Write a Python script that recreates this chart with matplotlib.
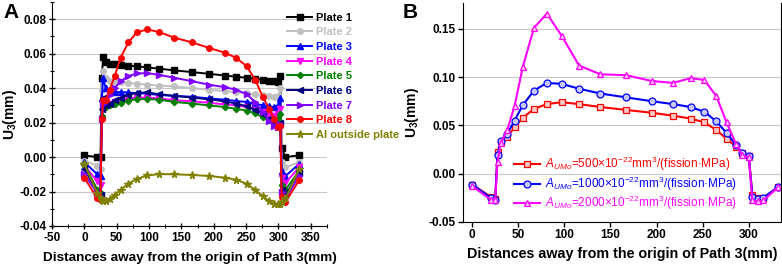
import matplotlib
matplotlib.use("Agg")
import matplotlib.pyplot as plt
from matplotlib.ticker import MultipleLocator

plt.rcParams['font.family'] = ['Liberation Sans', 'DejaVu Sans']
plt.rcParams['mathtext.fontset'] = 'custom'
plt.rcParams['mathtext.rm'] = 'Liberation Sans'
plt.rcParams['mathtext.it'] = 'Liberation Sans:italic'
plt.rcParams['mathtext.bf'] = 'Liberation Sans:bold'
plt.rcParams['axes.unicode_minus'] = False

# ---------------- Panel A data ----------------
xA = [0, 20, 25, 27, 29, 33, 39, 47, 56, 68, 81, 97, 116, 139, 167, 193, 218,
      235, 251, 264, 276, 286, 293, 300, 303, 305, 311, 332]

plate1 = [0.001, 0.000, 0.000, 0.046, 0.058, 0.055, 0.054, 0.054, 0.0535, 0.053,
          0.0527, 0.052, 0.0513, 0.0503, 0.0493, 0.0483, 0.0473, 0.0466, 0.046,
          0.0455, 0.0448, 0.0443, 0.0439, 0.0435, 0.047, 0.005, 0.000, 0.001]
plate2 = [-0.002, -0.005, -0.007, 0.039, 0.050, 0.046, 0.044, 0.0435, 0.0433, 0.043,
          0.0425, 0.042, 0.0415, 0.041, 0.040, 0.039, 0.0383, 0.0375, 0.037,
          0.0365, 0.0358, 0.0353, 0.035, 0.0355, 0.040, -0.003, -0.006, -0.003]
plate3 = [-0.003, -0.010, -0.011, 0.034, 0.046, 0.040, 0.038, 0.0378, 0.0377, 0.0375,
          0.037, 0.0368, 0.036, 0.0355, 0.035, 0.034, 0.0333, 0.0325, 0.032,
          0.031, 0.030, 0.0295, 0.029, 0.030, 0.034, -0.008, -0.011, -0.004]
plate4 = [-0.005, -0.014, -0.016, 0.022, 0.030, 0.030, 0.031, 0.032, 0.033, 0.034,
          0.0345, 0.0345, 0.034, 0.033, 0.0323, 0.0315, 0.0305, 0.030, 0.029,
          0.0275, 0.026, 0.0245, 0.024, 0.025, 0.028, -0.012, -0.015, -0.006]
plate5 = [-0.004, -0.019, -0.021, 0.024, 0.029, 0.029, 0.030, 0.031, 0.0315, 0.0328,
          0.0335, 0.0337, 0.0333, 0.032, 0.031, 0.030, 0.029, 0.028, 0.027,
          0.0255, 0.023, 0.0215, 0.021, 0.022, 0.025, -0.016, -0.019, -0.008]
plate6 = [-0.007, -0.020, -0.022, 0.028, 0.034, 0.030, 0.031, 0.033, 0.0345, 0.036,
          0.0373, 0.0375, 0.0365, 0.0355, 0.0345, 0.0335, 0.0323, 0.031, 0.0295,
          0.0275, 0.025, 0.022, 0.019, 0.0185, 0.020, -0.019, -0.022, -0.009]
plate7 = [-0.010, -0.021, -0.023, 0.022, 0.031, 0.033, 0.036, 0.040, 0.044, 0.047,
          0.0485, 0.0487, 0.0477, 0.046, 0.044, 0.042, 0.0405, 0.039, 0.0365,
          0.032, 0.026, 0.021, 0.018, 0.0175, 0.019, -0.020, -0.024, -0.011]
plate8 = [-0.012, -0.024, -0.025, 0.022, 0.033, 0.033, 0.039, 0.047, 0.0576, 0.0665,
          0.0723, 0.0741, 0.0725, 0.0693, 0.0665, 0.0633, 0.0605, 0.0575, 0.0527,
          0.045, 0.0348, 0.028, 0.022, 0.0175, 0.018, -0.023, -0.026, -0.0135]
al_out = [-0.004, -0.021, -0.024, -0.025, -0.0255, -0.0255, -0.0245, -0.022, -0.019,
          -0.0155, -0.0127, -0.0107, -0.0099, -0.0100, -0.0104, -0.0110, -0.0120,
          -0.0132, -0.0155, -0.0190, -0.0228, -0.0255, -0.027, -0.0275, -0.027,
          -0.026, -0.024, -0.007]

seriesA = [
    ("Plate 1", plate1, "#000000", "s"),
    ("Plate 2", plate2, "#c0c0c0", "o"),
    ("Plate 3", plate3, "#0000ff", "^"),
    ("Plate 4", plate4, "#ff00ff", "v"),
    ("Plate 5", plate5, "#008000", "D"),
    ("Plate 6", plate6, "#000080", "<"),
    ("Plate 7", plate7, "#8000ff", ">"),
    ("Plate 8", plate8, "#ff0000", "o"),
    ("Al outside plate", al_out, "#808000", "*"),
]

# ---------------- Panel B data ----------------
xB = [0, 20, 25, 27.5, 31, 38, 46, 55, 67, 81, 97, 116, 139, 167, 195, 218, 237,
      252, 265, 276, 286, 293, 300, 304, 310, 316, 332]
u500 = [-0.0115, -0.024, -0.026, 0.022, 0.033, 0.038, 0.048, 0.058, 0.067, 0.072,
        0.074, 0.072, 0.069, 0.066, 0.063, 0.060, 0.057, 0.053, 0.045, 0.036, 0.028,
        0.021, 0.018, -0.022, -0.025, -0.025, -0.014]
u1000 = [-0.0115, -0.025, -0.027, 0.019, 0.034, 0.041, 0.055, 0.071, 0.086, 0.094,
         0.093, 0.088, 0.083, 0.079, 0.075, 0.072, 0.069, 0.064, 0.054, 0.042, 0.030,
         0.021, 0.018, -0.024, -0.026, -0.025, -0.014]
u2000 = [-0.013, -0.027, -0.028, 0.012, 0.032, 0.045, 0.070, 0.111, 0.151, 0.166,
         0.143, 0.112, 0.103, 0.102, 0.096, 0.094, 0.099, 0.097, 0.080, 0.053, 0.031,
         0.019, 0.017, -0.028, -0.029, -0.028, -0.014]
labelsB = [r"$\mathit{A}_{\mathit{UMo}}$=500×10$^{-22}$mm$^{3}$/(fission·MPa)",
           r"$\mathit{A}_{\mathit{UMo}}$=1000×10$^{-22}$mm$^{3}$/(fission·MPa)",
           r"$\mathit{A}_{\mathit{UMo}}$=2000×10$^{-22}$mm$^{3}$/(fission·MPa)"]
seriesB = [
    (labelsB[0], u500, "#ff0000", "s", "#ffc8c8"),
    (labelsB[1], u1000, "#0000ff", "o", "#c8c8ff"),
    (labelsB[2], u2000, "#ff00ff", "^", "#ffc8ff"),
]

xlabel = "Distances away from the origin of Path 3(mm)"

fig = plt.figure(figsize=(7.82, 2.67), dpi=100)

# ---------- Panel A ----------
axA = fig.add_axes([0.0665, 0.1536, 0.3515, 0.839])
for lab, y, c, m in seriesA:
    ms = 5.5 if m == "*" else (3.2 if m == "D" else 4)
    axA.plot(xA, y, color=c, marker=m, markersize=ms, linewidth=1.4, label=lab,
             markeredgecolor=c, markerfacecolor=c)
axA.set_xlim(-50, 375)
axA.set_ylim(-0.04, 0.09)
axA.xaxis.set_minor_locator(MultipleLocator(25))
axA.yaxis.set_minor_locator(MultipleLocator(0.01))
axA.set_yticks([-0.04, -0.02, 0.0, 0.02, 0.04, 0.06, 0.08])
axA.set_yticklabels(["-0.04", "-0.02", "0.00", "0.02", "0.04", "0.06", "0.08"])
axA.set_xticks(range(-50, 351, 50))
axA.grid(axis='y', color='#c8c8c8', linewidth=0.8)
axA.set_axisbelow(True)
for s in ['top', 'right']:
    axA.spines[s].set_visible(False)
axA.tick_params(axis='both', which='major', direction='inout', length=4, width=1,
                labelsize=8.5, pad=2)
axA.tick_params(axis='both', which='minor', direction='inout', length=2.5, width=0.8)
for t in axA.get_xticklabels() + axA.get_yticklabels():
    t.set_fontweight('bold')
axA.set_xlabel(xlabel, fontsize=9.7, fontweight='bold', labelpad=6)
axA.set_ylabel("U$_\\mathbf{3}$(mm)", fontsize=10, fontweight='bold', labelpad=0)
legA = axA.legend(loc='upper left', bbox_to_anchor=(0.84, 0.972), frameon=False,
                  fontsize=8, handlelength=2.2, handletextpad=0.4,
                  labelspacing=0.42, borderaxespad=0.2, borderpad=0.2)
for txt, (lab, y, c, m) in zip(legA.get_texts(), seriesA):
    txt.set_color(c)
    txt.set_fontweight('bold')
fig.text(0.004, 0.99, "A", fontsize=15, fontweight='bold', va='top', ha='left')

# ---------- Panel B ----------
axB = fig.add_axes([0.592, 0.1697, 0.4067, 0.8193])
for lab, y, c, m, fc in seriesB:
    axB.plot(xB, y, color=c, marker=m, markersize=5, linewidth=1.5, label=lab,
             markeredgecolor=c, markerfacecolor=fc, markeredgewidth=0.9)
axB.set_xlim(-10, 335)
axB.set_ylim(-0.05, 0.177)
axB.set_xticks(range(0, 301, 50))
axB.set_yticks([-0.05, 0.0, 0.05, 0.10, 0.15])
axB.set_yticklabels(["-0.05", "0.00", "0.05", "0.10", "0.15"])
axB.grid(axis='y', color='#c8c8c8', linewidth=0.8)
axB.set_axisbelow(True)
axB.spines['top'].set_visible(False)
axB.tick_params(axis='both', which='major', direction='out', length=3.5, width=1,
                labelsize=8.5, pad=2)
for t in axB.get_xticklabels() + axB.get_yticklabels():
    t.set_fontweight('bold')
axB.set_xlabel(xlabel, fontsize=10.3, fontweight='bold', labelpad=4)
axB.set_ylabel("U$_\\mathbf{3}$(mm)", fontsize=10, fontweight='bold', labelpad=5)
legB = axB.legend(loc='upper left', bbox_to_anchor=(0.16, 0.305), frameon=False,
                  fontsize=8.5, handlelength=2.2, handletextpad=0.4,
                  labelspacing=0.12, borderaxespad=0.0, borderpad=0.0)
for txt, (lab, y, c, m, fc) in zip(legB.get_texts(), seriesB):
    txt.set_color(c)
fig.text(0.515, 0.99, "B", fontsize=15, fontweight='bold', va='top', ha='left')

fig.savefig("out.png", dpi=100)
